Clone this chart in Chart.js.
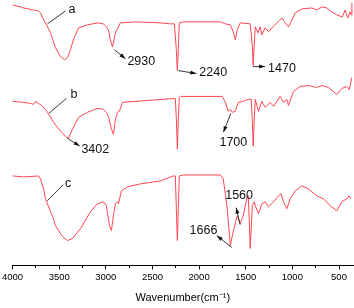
<!DOCTYPE html>
<html>
<head>
<meta charset="utf-8">
<script src="https://cdn.jsdelivr.net/npm/chart.js@4"></script>
<style>
  html, body { margin: 0; padding: 0; background: #fff; }
  #wrap { width: 354px; height: 308px; }
</style>
</head>
<body>
<div id="wrap"><canvas id="ir"></canvas></div>
<script>
// wavenumbers (cm-1) and offset transmittance for each spectrum
const waveA = [4000, 3914, 3882, 3775, 3722, 3700, 3679, 3647, 3593, 3540, 3486, 3443, 3411, 3379, 3347, 3293, 3197, 3090, 3026, 2994, 2972, 2951, 2929, 2908, 2897, 2876, 2844, 2683, 2415, 2308, 2265, 2244, 2233, 2223, 2212, 2169, 1773, 1719, 1666, 1634, 1612, 1591, 1559, 1452, 1430, 1420, 1409, 1398, 1369, 1345, 1327, 1291, 1256, 1219, 1166, 1112, 1077, 1042, 1005, 970, 898, 791, 738, 684, 630, 577, 523, 464, 435, 406, 381, 370, 362];
const transA = [262, 260, 259, 257, 256, 254, 249, 244, 234, 219, 210, 207, 209, 217, 227, 239, 242, 244, 243, 240, 237, 227, 220, 229, 234, 238, 244, 245, 244, 243, 243, 217, 196, 217, 244, 245, 245, 243, 242, 235, 227, 237, 244, 243, 222, 201, 222, 240, 234, 240, 232, 239, 235, 239, 244, 249, 244, 240, 247, 254, 258, 259, 257, 260, 259, 255, 252, 250, 257, 249, 255, 252, 264];

const waveB = [4000, 3882, 3807, 3775, 3754, 3722, 3679, 3625, 3561, 3486, 3422, 3400, 3358, 3293, 3197, 3090, 3026, 2994, 2972, 2940, 2919, 2897, 2876, 2855, 2822, 2683, 2255, 2244, 2233, 2223, 2212, 2201, 1752, 1719, 1687, 1666, 1645, 1612, 1580, 1527, 1473, 1441, 1430, 1420, 1409, 1398, 1363, 1327, 1291, 1238, 1202, 1130, 1095, 1059, 1042, 988, 916, 828, 738, 684, 613, 523, 470, 416, 389, 363];
const transB = [165, 164, 163, 162, 165, 163, 160, 154, 144, 135, 129, 128, 137, 149, 154, 158, 157, 154, 150, 137, 132, 147, 154, 155, 164, 165, 168, 147, 117, 147, 169, 170, 170, 164, 155, 157, 154, 155, 164, 165, 167, 167, 147, 120, 147, 167, 155, 165, 159, 164, 160, 170, 164, 167, 161, 175, 180, 181, 179, 181, 179, 172, 178, 180, 177, 189];

const waveC = [4000, 3882, 3722, 3700, 3668, 3647, 3593, 3561, 3540, 3465, 3411, 3358, 3272, 3165, 3090, 3026, 2994, 2961, 2940, 2919, 2897, 2876, 2865, 2833, 2769, 2630, 2415, 2276, 2255, 2244, 2233, 2223, 2212, 2169, 1773, 1741, 1719, 1698, 1666, 1634, 1591, 1559, 1527, 1484, 1473, 1463, 1452, 1441, 1430, 1409, 1398, 1363, 1327, 1291, 1256, 1202, 1149, 1120, 1095, 1059, 1023, 970, 898, 828, 738, 667, 595, 523, 470, 416, 392, 374];
const transC = [90, 89, 90, 87, 77, 67, 54, 47, 40, 29, 25, 27, 37, 54, 62, 64, 60, 40, 35, 50, 62, 64, 62, 75, 79, 82, 85, 90, 90, 57, 25, 57, 90, 91, 91, 87, 72, 57, 20, 34, 50, 42, 50, 69, 70, 47, 17, 37, 60, 64, 60, 52, 62, 64, 59, 64, 70, 72, 64, 57, 67, 75, 80, 77, 70, 67, 60, 55, 64, 67, 70, 67];

const tickValues = [4000, 3750, 3500, 3250, 3000, 2750, 2500, 2250, 2000, 1750, 1500, 1250, 1000, 750, 500];

// peak labels: text, where the text sits, and the pointer line (wavenumber, transmittance)
const notes = [
  { text: 'a', at: [3400, 257], from: [3625, 243], to: [3433, 256], align: 'left', arrow: false },
  { text: '2930', at: [2769, 205], from: [2908, 217], to: [2790, 208], align: 'left', arrow: true },
  { text: '2240', at: [1998, 194], from: [2223, 196], to: [2030, 193], align: 'left', arrow: true },
  { text: '1470', at: [1261, 198], from: [1423, 200], to: [1293, 200], align: 'left', arrow: true },
  { text: 'b', at: [3379, 172], from: [3611, 153], to: [3422, 168], align: 'left', arrow: false },
  { text: '3402', at: [3262, 117], from: [3415, 128], to: [3280, 120], align: 'left', arrow: true },
  { text: '1700', at: [1633, 124], from: [1660, 153], to: [1739, 134], align: 'center', arrow: true },
  { text: 'c', at: [3438, 82], from: [3629, 65], to: [3458, 81], align: 'left', arrow: false },
  { text: '1666', at: [1953, 35], from: [1649, 18], to: [1810, 30], align: 'center', arrow: true },
  { text: '1560', at: [1571, 70], from: [1560, 41], to: [1603, 58], align: 'center', arrow: true }
];

const FONT = '"Liberation Sans", Arial, sans-serif';
const lineColor = 'rgb(255, 70, 80)';

function toPoints(w, t) {
  return w.map((x, i) => ({ x: x, y: t[i] }));
}

const peakNotes = {
  id: 'peakNotes',
  afterDatasetsDraw(chart) {
    const ctx = chart.ctx;
    const xs = chart.scales.x;
    const ys = chart.scales.y;
    ctx.save();
    ctx.strokeStyle = '#222';
    ctx.fillStyle = '#111';
    ctx.lineWidth = 0.9;
    notes.forEach((n) => {
      const x1 = xs.getPixelForValue(n.from[0]);
      const y1 = ys.getPixelForValue(n.from[1]);
      const x2 = xs.getPixelForValue(n.to[0]);
      const y2 = ys.getPixelForValue(n.to[1]);
      ctx.beginPath();
      ctx.moveTo(x1, y1);
      ctx.lineTo(x2, y2);
      ctx.stroke();
      if (n.arrow) {
        const ang = Math.atan2(y2 - y1, x2 - x1);
        ctx.beginPath();
        ctx.moveTo(x2, y2);
        ctx.lineTo(x2 - 6 * Math.cos(ang) + 2 * Math.sin(ang), y2 - 6 * Math.sin(ang) - 2 * Math.cos(ang));
        ctx.lineTo(x2 - 6 * Math.cos(ang) - 2 * Math.sin(ang), y2 - 6 * Math.sin(ang) + 2 * Math.cos(ang));
        ctx.closePath();
        ctx.fill();
      }
      ctx.font = '12.5px ' + FONT;
      ctx.textAlign = n.align;
      ctx.textBaseline = 'middle';
      ctx.fillText(n.text, xs.getPixelForValue(n.at[0]), ys.getPixelForValue(n.at[1]));
    });
    ctx.restore();
  }
};

new Chart(document.getElementById('ir'), {
  type: 'line',
  data: {
    datasets: [
      { label: 'a', data: toPoints(waveA, transA) },
      { label: 'b', data: toPoints(waveB, transB) },
      { label: 'c', data: toPoints(waveC, transC) }
    ]
  },
  options: {
    responsive: true,
    maintainAspectRatio: false,
    animation: false,
    layout: { padding: { left: 12, right: 1, top: 0, bottom: 3 } },
    elements: {
      line: { borderColor: lineColor, borderWidth: 1, tension: 0, fill: false },
      point: { radius: 0 }
    },
    plugins: {
      legend: { display: false },
      tooltip: { enabled: false }
    },
    scales: {
      x: {
        type: 'linear',
        reverse: true,
        min: 350,
        max: 4000,
        afterBuildTicks: (scale) => {
          scale.ticks = tickValues.map((v) => ({ value: v }));
        },
        ticks: {
          autoSkip: false,
          maxRotation: 0,
          padding: 2,
          color: '#000',
          font: { family: FONT, size: 9.5 },
          callback: (v) => (v % 500 === 0 ? String(v) : '')
        },
        grid: {
          drawOnChartArea: false,
          drawTicks: true,
          tickLength: 4,
          tickColor: '#000',
          tickBorderDash: (c) => (c.tick && c.tick.value % 500 !== 0 ? [2, 10] : [])
        },
        border: { display: true, color: '#000', width: 1 },
        title: {
          display: true,
          text: 'Wavenumber(cm⁻¹)',
          color: '#000',
          font: { family: FONT, size: 11 },
          padding: { top: 7, bottom: 0 }
        }
      },
      y: {
        display: false,
        min: 0,
        max: 267
      }
    }
  },
  plugins: [peakNotes]
});
</script>
</body>
</html>
